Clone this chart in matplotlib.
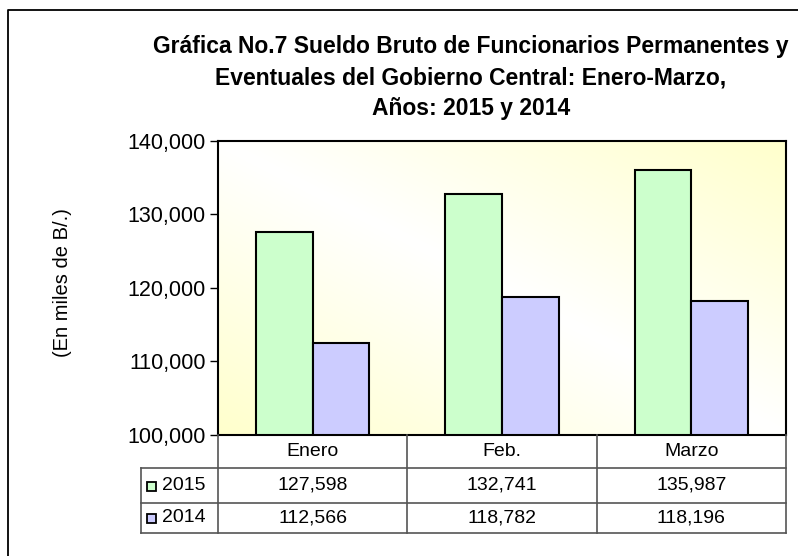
import numpy as np
import matplotlib
matplotlib.use("Agg")
import matplotlib.pyplot as plt
from matplotlib.transforms import blended_transform_factory
from matplotlib.patches import Rectangle

categories = ["Enero", "Feb.", "Marzo"]
series_names = ["2015", "2014"]
values_2015 = [127598, 132741, 135987]
values_2014 = [112566, 118782, 118196]
yticks = [100000, 110000, 120000, 130000, 140000]

colors = ["#CCFFCC", "#CCCCFF"]
font = "Liberation Sans"

W, H = 798, 556
fig = plt.figure(figsize=(W / 100, H / 100), dpi=100)
fig.patch.set_facecolor("white")

def fx(px):
    return px / W

def fy(py):
    return 1 - py / H

# outer border (only top and left edges visible)
fig.lines.append(plt.Line2D([fx(8), fx(8), 1.01], [-0.01, fy(10), fy(10)],
                            transform=fig.transFigure, color="black", lw=1.3))

left, right, top, bottom = 218, 786, 141, 435
ax = fig.add_axes([fx(left), fy(bottom), fx(right) - fx(left), fy(top) - fy(bottom)])

# gradient background
n = 200
gx, gy = np.meshgrid(np.linspace(0, 1, n), np.linspace(0, 1, n))
t = np.clip(np.abs(gx + gy - 1), 0, 1)
white = np.array([1.0, 1.0, 1.0])
yellow = np.array([1.0, 1.0, 0.8])
img = white[None, None, :] * (1 - t[..., None]) + yellow[None, None, :] * t[..., None]
ax.imshow(img, extent=[0, 1, 0, 1], origin="lower", transform=ax.transAxes,
          aspect="auto", zorder=0)

x = np.arange(len(categories))
bw = 0.3
ax.bar(x - bw / 2, values_2015, bw, color=colors[0], edgecolor="black", linewidth=1.5, zorder=2)
ax.bar(x + bw / 2, values_2014, bw, color=colors[1], edgecolor="black", linewidth=1.5, zorder=2)

ax.set_xlim(-0.5, len(categories) - 0.5)
ax.set_ylim(yticks[0], yticks[-1])
ax.set_yticks(yticks)
ax.set_yticklabels([f"{v:,}" for v in yticks], fontsize=15.5, fontfamily=font)
ax.set_xticks([])
ax.tick_params(axis="y", length=6, width=1, pad=3)
for s in ax.spines.values():
    s.set_linewidth(1.5)
    s.set_zorder(3)

fig.text(fx(62), fy(283), "(En miles de B/.)", rotation=90, ha="center", va="center",
         fontsize=14.5, fontfamily=font)

title_lines = ["Gráfica No.7 Sueldo Bruto de Funcionarios Permanentes y",
               "Eventuales del Gobierno Central: Enero-Marzo,",
               "Años: 2015 y 2014"]
for i, line in enumerate(title_lines):
    fig.text(fx(471), fy(47 + 30.5 * i), line, ha="center", va="center",
             fontsize=16.5, fontweight="bold", fontfamily=font)

# data table
tr = blended_transform_factory(ax.transData, fig.transFigure)
col_edges = [-0.5 + i for i in range(len(categories) + 1)]
y_head_b = fy(468)
y_r1_b = fy(503)
y_r2_b = fy(533)
y_top = fy(bottom)
lc = "#555555"
lw = 1.2
fig.lines.append(plt.Line2D([fx(141), fx(right)], [y_head_b, y_head_b], color=lc, lw=lw, transform=fig.transFigure))
fig.lines.append(plt.Line2D([fx(141), fx(right)], [y_r1_b, y_r1_b], color=lc, lw=lw, transform=fig.transFigure))
fig.lines.append(plt.Line2D([fx(141), fx(right)], [y_r2_b, y_r2_b], color=lc, lw=lw, transform=fig.transFigure))
for ce in col_edges:
    fig.lines.append(plt.Line2D([ce, ce], [y_top, y_r2_b], color=lc, lw=lw, transform=tr))
fig.lines.append(plt.Line2D([fx(141), fx(141)], [y_head_b, y_r2_b], color=lc, lw=lw, transform=fig.transFigure))

for i, c in enumerate(categories):
    fig.text(x[i], (y_top + y_head_b) / 2, c, transform=tr, ha="center", va="center",
             fontsize=14, fontfamily=font)
rows = [values_2015, values_2014]
row_centers = [(y_head_b + y_r1_b) / 2, (y_r1_b + y_r2_b) / 2]
for r, vals in enumerate(rows):
    for i, v in enumerate(vals):
        fig.text(x[i], row_centers[r], f"{v:,}", transform=tr, ha="center", va="center",
                 fontsize=14, fontfamily=font)
    fig.patches.append(Rectangle((fx(147), row_centers[r] - 5 / H), 9 / W, 9 / H,
                                 transform=fig.transFigure, facecolor=colors[r],
                                 edgecolor="black", linewidth=1.3))
    fig.text(fx(162), row_centers[r], series_names[r], ha="left", va="center",
             fontsize=14, fontfamily=font)

fig.savefig("out.png", dpi=100)
